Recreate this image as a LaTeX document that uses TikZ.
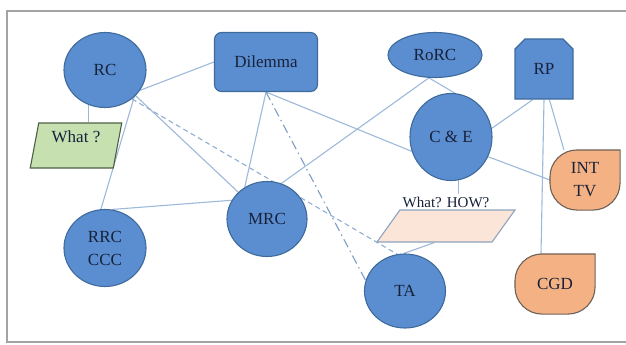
\documentclass[tikz,border=0pt]{standalone}
\usepackage{fontspec}
\setmainfont{Liberation Serif}
\usepackage{tikz}
\usetikzlibrary{shapes.geometric,shapes.misc,backgrounds}
\definecolor{mapBlue}{HTML}{5B8ED0}
\definecolor{mapBlueLine}{HTML}{3E6A9C}
\definecolor{mapGreen}{HTML}{C7E0B0}
\definecolor{mapGreenLine}{HTML}{4F5F45}
\definecolor{mapPeach}{HTML}{FBE5D8}
\definecolor{mapPeachLine}{HTML}{8FA3BD}
\definecolor{mapOrange}{HTML}{F4B183}
\definecolor{mapOrangeLine}{HTML}{6D6259}
\definecolor{mapLink}{HTML}{9DB9DA}
\definecolor{mapText}{HTML}{17213A}
\definecolor{mapFrame}{HTML}{A3A3A3}
\tikzset{
    mapBase/.style={
        draw,
        line width=1.1pt,
        font=\fontsize{17}{23}\selectfont,
        text=mapText,
        align=center,
        inner sep=2pt
    },
    % Shape Variants
    bubble/.style 2 args={mapBase, ellipse, fill=mapBlue, draw=mapBlueLine, minimum width=#1, minimum height=#2},
    card/.style={mapBase, rectangle, rounded corners=7pt, fill=mapBlue, draw=mapBlueLine},
    snip/.style={mapBase, chamfered rectangle, chamfered rectangle corners={north west,north east},
        chamfered rectangle xsep=5pt, chamfered rectangle ysep=5pt, fill=mapBlue, draw=mapBlueLine},
    slant/.style={mapBase, trapezium, trapezium stretches=true},
    tear/.style 2 args={mapBase, draw=none, minimum width=#1, minimum height=#2},
    tearfill/.style={fill=mapOrange, draw=mapOrangeLine, line width=1.1pt, line cap=rect},
    % Links
    link/.style={line width=1.1pt, draw=mapLink},
    dashlink/.style={link, draw=mapLink!85!mapBlueLine, dash pattern=on 5pt off 3.5pt},
    dotlink/.style={link, draw=mapLink!65!mapBlueLine, dash pattern=on 9pt off 4pt on 1.5pt off 4pt}
}
\begin{document}
\begin{tikzpicture}[x=1pt, y=1pt]
\useasboundingbox (0,0) rectangle (626,-345);
\draw[mapFrame, line width=1.5pt] (626,-11) -- (7,-11) -- (7,-342) -- (626,-342);

\node[bubble={82pt}{75pt}] (rc) at (105,-70) {RC};
\node[card, minimum width=103pt, minimum height=59pt] (dilemma) at (266,-62) {Dilemma};
\node[bubble={94pt}{45pt}] (rorc) at (435,-55) {RoRC};
\node[snip, minimum width=58pt, minimum height=60pt] (rp) at (544,-69) {RP};
\node[bubble={82pt}{87pt}] (ce) at (451,-137) {C \& E};
\node[slant, trapezium left angle=80, trapezium right angle=100, fill=mapGreen, draw=mapGreenLine,
    minimum width=92pt, minimum height=45pt, text height=12pt, text depth=18pt] (what) at (76,-145.5) {What ?};
\node[tear={69pt}{59pt}] (inttv) at (585,-180) {INT\\TV};
\node[bubble={80pt}{75pt}] (mrc) at (267,-219) {MRC};
\node[bubble={82pt}{77pt}] (rrc) at (105,-248) {RRC\\CCC};
\node[slant, trapezium left angle=76, trapezium right angle=104, fill=mapPeach, draw=mapPeachLine,
    minimum width=138pt, minimum height=32pt] (whow) at (446,-226) {};
\node[font=\fontsize{15}{18}\selectfont, text=mapText, inner sep=2pt] (whowlbl) at (446,-202) {What? HOW?};
\node[bubble={81pt}{74pt}] (ta) at (405,-291) {TA};
\node[tear={79pt}{59pt}] (cgd) at (555,-284) {CGD};

\begin{scope}[on background layer]
\draw[link] (rc.245) -- (rc.245 |- what.north);
\draw[link] (rc.-43) -- (rrc.96);
\draw[link] (rc.-30) -- (dilemma.west);
\draw[link] (rc.-40) -- (mrc.137);
\draw[dashlink] (rc.-47) -- (ta.102);
\draw[link] (dilemma.south) -- (ce.200);
\draw[link] (dilemma.south) -- (mrc.125);
\draw[dotlink] (dilemma.south) -- (ta.165);
\draw[link] (rrc.80) -- (mrc.152);
\draw[link] (mrc.68) -- (rorc.255);
\draw[link] (rorc.255) -- (ce.85);
\draw[link] (ce.12) -- (rp.250);
\draw[link] (ce.-28) -- (inttv.west);
\draw[link] (ce.-80) -- (ce.-80 |- whowlbl.north);
\draw[link] (rp.280) -- (inttv.125);
\draw[link] (rp.south) -- (cgd.115);
\draw[link] (whow.235) -- (ta.92);
\draw[tearfill] (inttv.north east) [rounded corners=27pt] -- (inttv.north west) -- (inttv.south west) -- (inttv.south east) -- (inttv.north east);
\draw[tearfill] (cgd.north east) [rounded corners=27pt] -- (cgd.north west) -- (cgd.south west) -- (cgd.south east) -- (cgd.north east);
\end{scope}
\end{tikzpicture}
\end{document}
